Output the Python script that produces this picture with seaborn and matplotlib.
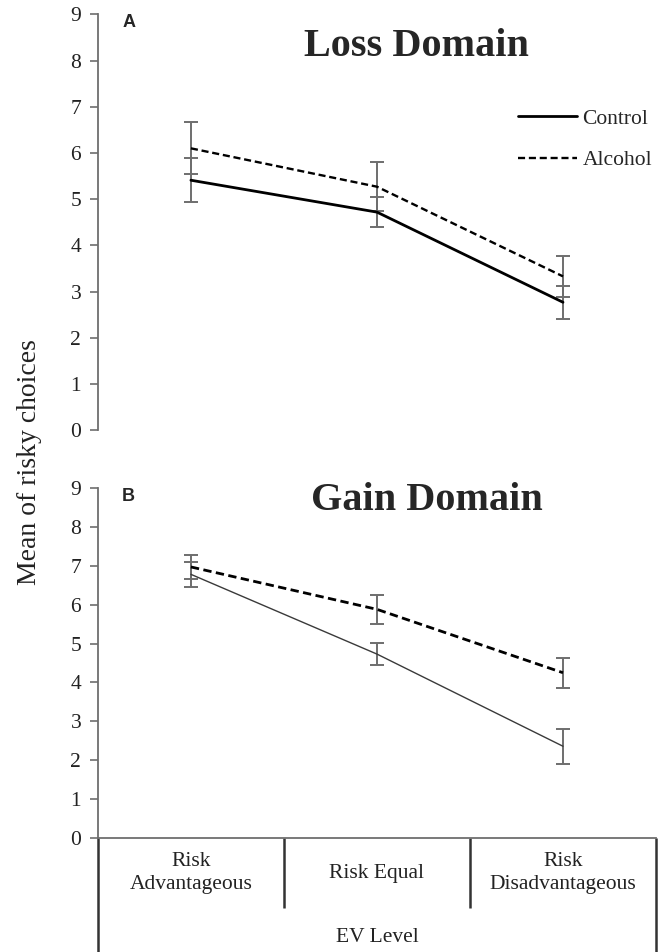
import pandas as pd
import seaborn as sns
import matplotlib.pyplot as plt
import matplotlib.transforms as mtransforms

levels = ["Risk\nAdvantageous", "Risk Equal", "Risk\nDisadvantageous"]
groups = ["Control", "Alcohol"]

# loss domain (panel A): means and error half-widths
loss_control = [5.41, 4.72, 2.77]
loss_control_err = [0.48, 0.33, 0.36]
loss_alcohol = [6.10, 5.27, 3.33]
loss_alcohol_err = [0.56, 0.53, 0.45]

# gain domain (panel B)
gain_control = [6.78, 4.73, 2.36]
gain_control_err = [0.32, 0.28, 0.45]
gain_alcohol = [6.97, 5.88, 4.25]
gain_alcohol_err = [0.30, 0.38, 0.39]

sns.set_style("white")
plt.rcParams["font.family"] = ["Liberation Serif", "DejaVu Serif"]

fig = plt.figure(figsize=(6.66, 9.52), dpi=100)
ax_a = fig.add_axes([0.147, 0.548, 0.838, 0.437])
ax_b = fig.add_axes([0.147, 0.1197, 0.838, 0.3677])

gray = "#6e6e6e"


def make_df(control, alcohol):
    return pd.DataFrame({
        "level": levels * 2,
        "mean": control + alcohol,
        "group": ["Control"] * 3 + ["Alcohol"] * 3,
    })


def draw_panel(ax, control, c_err, alcohol, a_err, c_lw, c_color, a_lw):
    df = make_df(control, alcohol)
    sns.lineplot(data=df, x="level", y="mean", style="group",
                 style_order=groups, dashes={"Control": "", "Alcohol": (3, 1.6)},
                 color="black", sort=False, ax=ax, legend=False, lw=a_lw)
    ax.lines[0].set_linewidth(c_lw)
    ax.lines[0].set_color(c_color)
    x = range(len(levels))
    for m, e in [(control, c_err), (alcohol, a_err)]:
        ax.errorbar(x, m, yerr=e, fmt="none", ecolor=gray, elinewidth=1.4,
                    capsize=5, capthick=1.4, zorder=1)
    ax.set_xlim(-0.5, 2.5)
    ax.set_ylim(0, 9)
    ax.set_yticks(range(10))
    ax.set_xlabel("")
    ax.set_ylabel("")
    sns.despine(ax=ax, top=True, right=True)
    ax.spines["left"].set_color(gray)
    ax.spines["left"].set_linewidth(1.3)
    ax.tick_params(axis="y", left=True, length=6, width=1.2, color=gray,
                   labelsize=15.5, pad=6, labelcolor="#222222")


draw_panel(ax_a, loss_control, loss_control_err, loss_alcohol, loss_alcohol_err,
           2.0, "black", 1.7)
draw_panel(ax_b, gain_control, gain_control_err, gain_alcohol, gain_alcohol_err,
           1.0, "#3a3a3a", 2.0)

# panel A: no x axis
ax_a.spines["bottom"].set_visible(False)
ax_a.set_xticks([])

# legend in panel A
ax_a.legend(handles=ax_a.lines[:2], labels=groups, frameon=False,
            loc="upper left", bbox_to_anchor=(0.718, 0.82), fontsize=15.5,
            handlelength=2.75, handletextpad=0.25, labelspacing=1.0)

# panel B: table-style category axis
ax_b.spines["bottom"].set_color(gray)
ax_b.spines["bottom"].set_linewidth(1.3)
ax_b.set_xticks([])
trans = mtransforms.blended_transform_factory(ax_b.transData, ax_b.transAxes)
for xb, yb in [(-0.5, -0.33), (0.5, -0.2), (1.5, -0.2), (2.5, -0.33)]:
    ax_b.plot([xb, xb], [0, yb], transform=trans, color="#333333", lw=1.8,
              clip_on=False, solid_capstyle="butt")
for i, lab in enumerate(levels):
    ax_b.text(i, -0.1, lab, transform=trans, ha="center", va="center",
              fontsize=15.5, color="#222222", linespacing=1.25)
ax_b.text(1, -0.283, "EV Level", transform=trans, ha="center", va="center",
          fontsize=15.5, color="#222222")

# titles and panel letters
ax_a.text(0.57, 0.922, "Loss Domain", transform=ax_a.transAxes, ha="center",
          va="center", fontsize=29, fontweight="bold")
ax_b.text(0.59, 0.965, "Gain Domain", transform=ax_b.transAxes, ha="center",
          va="center", fontsize=29, fontweight="bold")
ax_a.text(0.055, 0.98, "A", transform=ax_a.transAxes, ha="center", va="center",
          fontsize=13, fontweight="bold", family=["Liberation Sans"])
ax_b.text(0.055, 0.975, "B", transform=ax_b.transAxes, ha="center", va="center",
          fontsize=13, fontweight="bold", family=["Liberation Sans"])

fig.text(0.045, 0.515, "Mean of risky choices", rotation=90, ha="center",
         va="center", fontsize=20, color="#222222")

fig.savefig("out.png", dpi=100)
